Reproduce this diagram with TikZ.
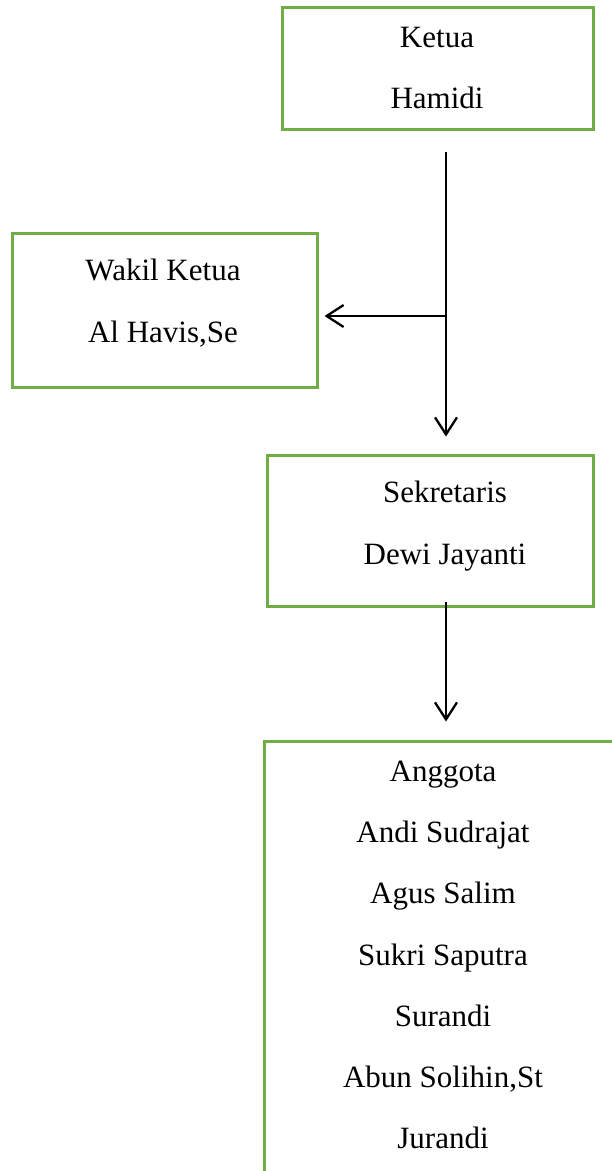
\documentclass[tikz,border=0pt]{standalone}
\usepackage{fontspec}
\setmainfont{Liberation Serif}
\usetikzlibrary{arrows.meta}
\definecolor{boxgreen}{HTML}{70AD47}
\begin{document}
\begin{tikzpicture}[x=1pt,y=-1pt,
  orgbox/.style={draw=boxgreen, line width=3pt, rectangle, inner sep=0pt, fill=white},
  lbl/.style={align=center, font=\fontsize{31}{61.3}\selectfont, inner sep=0pt},
  conn/.style={line width=2.5pt, -{Straight Barb[length=17pt,width=22pt,line width=2.3pt]}}]
\useasboundingbox (0,0) rectangle (612,1171);
% boxes
\node[orgbox, minimum width=311pt, minimum height=122pt] (ketua) at (437.5,68) {};
\node[lbl] (ketuaT) at (437,68) {Ketua\\Hamidi};
\node[orgbox, minimum width=305pt, minimum height=154pt] (wakil) at (164.5,310) {};
\node[lbl] (wakilT) at (163,303) {Wakil Ketua\\Al Havis,Se};
\node[orgbox, minimum width=326pt, minimum height=151pt] (sek) at (430,530.5) {};
\node[lbl] (sekT) at (445,526) {Sekretaris\\Dewi Jayanti};
\node[orgbox, minimum width=380pt, minimum height=460pt] (ang) at (454,971) {};
\node[lbl] (angT) at (443,955) {Anggota\\Andi Sudrajat\\Agus Salim\\Sukri Saputra\\Surandi\\Abun Solihin,St\\Jurandi};
% connectors
\coordinate (k1) at (446,152);
\coordinate (jn) at (446,316);
\coordinate (s1) at (446,602);
\draw[conn, shorten >=17pt] (k1) -- (k1 |- sek.north);
\draw[conn, shorten >=6pt] (jn) -- (jn -| wakil.east);
\draw[conn, shorten >=18pt] (s1) -- (s1 |- ang.north);
\end{tikzpicture}
\end{document}
